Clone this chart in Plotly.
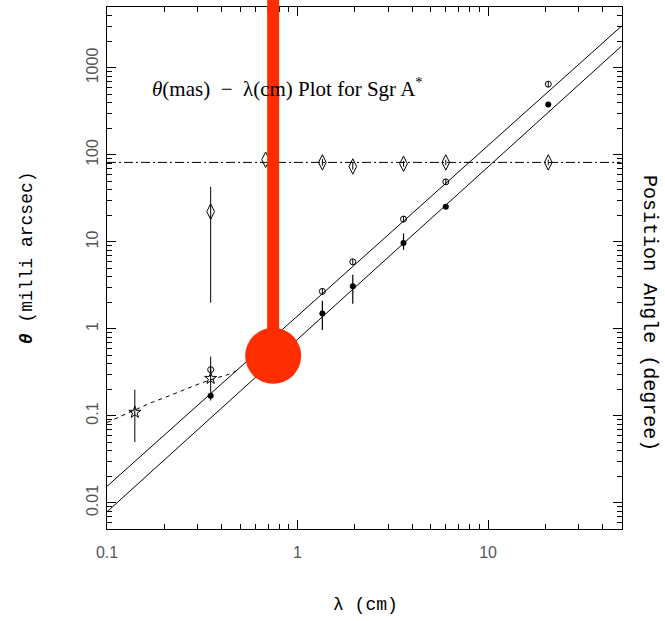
import plotly.graph_objects as go

# ---------------- data ----------------
lam_major = [0.35, 1.35, 1.95, 3.6, 6.0, 20.7]
theta_major = [0.34, 2.7, 5.9, 18.3, 49, 650]
major_err = [0.03, 0.25, 0.5, 1.5, 4, 50]

lam_minor = [0.35, 1.35, 1.95, 3.6, 6.0, 20.7]
theta_minor = [0.17, 1.5, 3.1, 9.7, 25.4, 380]
minor_err_plus = [0.0, 0.6, 1.1, 2.8, 0.0, 0.0]
minor_err_minus = [0.0, 0.53, 1.15, 1.6, 0.0, 0.0]

lam_star = [0.14, 0.35]
theta_star = [0.11, 0.27]
star_err_plus = [0.09, 0.21]
star_err_minus = [0.06, 0.12]

lam_pa = [0.35, 0.68, 1.35, 1.95, 3.6, 6.0, 20.7]
pa_vals = [22.3, 88, 82, 73.6, 79, 82, 82]
pa_err_plus = [20.7, 0, 8, 7, 6, 6, 6]
pa_err_minus = [20.3, 0, 7, 6, 6, 6, 6]

fit_lam = [0.1, 50]
fit_major_theta = [0.0155, 3000]
fit_minor_theta = [0.0079, 1770]

pa_line_lam = [0.1, 50]
pa_line_vals = [82, 82]

curve_lam = [0.1, 0.112, 0.137, 0.168, 0.206, 0.252, 0.309, 0.35, 0.435, 0.5]
curve_theta = [0.084, 0.094, 0.115, 0.14, 0.166, 0.2, 0.237, 0.26, 0.30, 0.345]

red_lam = [0.745]
red_theta = [0.49]
red_stem_top = 10 ** 3.7

# ---------------- figure ----------------
BLACK = "black"
RED = "#ff2d00"
fig = go.Figure()

line_style = dict(color=BLACK, width=1)

fig.add_trace(go.Scatter(x=fit_lam, y=fit_major_theta, mode="lines", line=line_style))
fig.add_trace(go.Scatter(x=fit_lam, y=fit_minor_theta, mode="lines", line=line_style))
fig.add_trace(go.Scatter(x=pa_line_lam, y=pa_line_vals, mode="lines",
                         line=dict(color=BLACK, width=1, dash="9px,3px,2px,3px")))
fig.add_trace(go.Scatter(x=curve_lam, y=curve_theta, mode="lines",
                         line=dict(color=BLACK, width=1, dash="4px,4px")))

fig.add_trace(go.Scatter(
    x=lam_pa, y=pa_vals, mode="markers",
    marker=dict(symbol="diamond-tall-open", size=11, color=BLACK, line=dict(width=1, color=BLACK)),
    error_y=dict(type="data", array=pa_err_plus, arrayminus=pa_err_minus,
                 color=BLACK, thickness=1, width=0)))
fig.add_trace(go.Scatter(
    x=lam_major, y=theta_major, mode="markers",
    marker=dict(symbol="circle-open", size=6, color=BLACK, line=dict(width=1, color=BLACK)),
    error_y=dict(type="data", array=major_err, color=BLACK, thickness=1, width=0)))
fig.add_trace(go.Scatter(
    x=lam_minor, y=theta_minor, mode="markers",
    marker=dict(symbol="circle", size=6, color=BLACK),
    error_y=dict(type="data", array=minor_err_plus, arrayminus=minor_err_minus,
                 color=BLACK, thickness=1.2, width=0)))
fig.add_trace(go.Scatter(
    x=lam_star, y=theta_star, mode="markers",
    marker=dict(symbol="star-open", size=9, color=BLACK, line=dict(width=1, color=BLACK)),
    error_y=dict(type="data", array=star_err_plus, arrayminus=star_err_minus,
                 color=BLACK, thickness=1, width=0)))

# red marker: stem + dot
fig.add_trace(go.Scatter(x=[red_lam[0], red_lam[0]], y=[red_theta[0], red_stem_top], mode="lines",
                         line=dict(color=RED, width=12)))
fig.add_shape(type="line", xref="x", yref="paper", x0=red_lam[0], x1=red_lam[0],
              y0=0.99, y1=1.03, line=dict(color=RED, width=12), layer="above")
fig.add_trace(go.Scatter(x=red_lam, y=red_theta, mode="markers",
                         marker=dict(size=56, color=RED), cliponaxis=False))

tickfont = dict(family="Liberation Sans", size=16, color="#555")
axis_common = dict(type="log", showline=True, linecolor=BLACK, linewidth=1, mirror="ticks",
                   ticks="inside", ticklen=9, tickcolor=BLACK, tickwidth=1,
                   showgrid=False, zeroline=False, dtick=1, tickfont=tickfont,
                   minor=dict(ticks="inside", ticklen=5, tickcolor=BLACK, dtick="D1", showgrid=False))

fig.update_layout(
    width=665, height=621, autosize=False,
    margin=dict(l=107, r=43, t=7, b=92),
    paper_bgcolor="white", plot_bgcolor="white", showlegend=False,
    xaxis=dict(range=[-1, 1.703], ticklabelstandoff=9, **axis_common),
    yaxis=dict(range=[-2.3, 3.7], tickangle=-90, ticklabelstandoff=2, **axis_common),
)

title_font = dict(family="Liberation Mono", size=18, color=BLACK)
fig.add_annotation(text="λ (cm)", xref="paper", yref="paper", x=0.502, y=-0.146,
                   showarrow=False, font=title_font, xanchor="center", yanchor="middle")
fig.add_annotation(text="<i><b>θ</b></i> (milli arcsec)", xref="paper", yref="paper",
                   x=-0.155, y=0.519, textangle=-90,
                   showarrow=False, font=title_font, xanchor="center", yanchor="middle")
fig.add_annotation(text="Position Angle (degree)", xref="paper", yref="paper",
                   x=1.052, y=0.414, textangle=90,
                   showarrow=False, font=dict(family="Liberation Mono", size=20, color=BLACK),
                   xanchor="center", yanchor="middle")
fig.add_annotation(text="<i>θ</i>(mas) \u00a0−\u00a0 λ(cm) Plot for Sgr A<sup>*</sup>",
                   xref="paper", yref="paper",
                   x=0.0835, y=0.845, showarrow=False,
                   font=dict(family="Liberation Serif", size=21, color=BLACK),
                   xanchor="left", yanchor="middle")

fig.write_html("out.html")
